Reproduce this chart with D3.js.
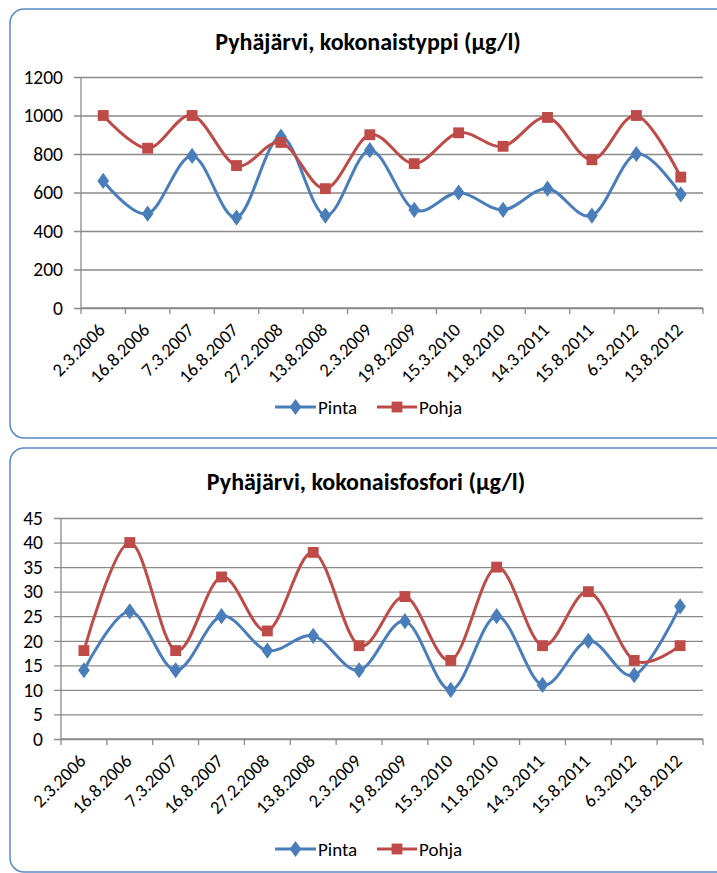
<!DOCTYPE html>
<html>
<head>
<meta charset="utf-8">
<script src="https://cdn.jsdelivr.net/npm/d3@7"></script>
<style>
  html, body { margin: 0; padding: 0; background: #fff; }
  svg { display: block; }
  text { font-family: Carlito, Calibri, Lato, "Open Sans", sans-serif; fill: #000; }
</style>
</head>
<body>
<svg id="chart" width="717" height="873"></svg>
<script>
// Sampling dates shared by both charts
const categories = ["2.3.2006", "16.8.2006", "7.3.2007", "16.8.2007", "27.2.2008", "13.8.2008",
  "2.3.2009", "19.8.2009", "15.3.2010", "11.8.2010", "14.3.2011", "15.8.2011", "6.3.2012", "13.8.2012"];

// Total nitrogen (µg/l)
const typpiPinta = [660, 490, 790, 470, 890, 480, 820, 510, 600, 510, 620, 480, 800, 590];
const typpiPohja = [1000, 830, 1000, 740, 860, 620, 900, 750, 910, 840, 990, 770, 1000, 680];
const typpiTicks = [0, 200, 400, 600, 800, 1000, 1200];

// Total phosphorus (µg/l)
const fosforiPinta = [14, 26, 14, 25, 18, 21, 14, 24, 10, 25, 11, 20, 13, 27];
const fosforiPohja = [18, 40, 18, 33, 22, 38, 19, 29, 16, 35, 19, 30, 16, 19];
const fosforiTicks = [0, 5, 10, 15, 20, 25, 30, 35, 40, 45];

const seriesNames = ["Pinta", "Pohja"];
const seriesColors = ["#4A7EBB", "#BE4B48"];

const svg = d3.select("#chart");

const diamondPath = d3.symbol().type(d3.symbolDiamond).size(76)();
const squarePath = d3.symbol().type(d3.symbolSquare).size(118)();

function drawMarker(g, i, x, y) {
  if (i === 0) {
    g.append("path").attr("d", diamondPath)
      .attr("transform", `translate(${x},${y}) scale(1.25,1)`)
      .attr("fill", seriesColors[0]);
  } else {
    g.append("path").attr("d", squarePath)
      .attr("transform", `translate(${x},${y})`)
      .attr("fill", seriesColors[1]);
  }
}

function drawPanel(cfg) {
  const g = svg.append("g");

  // rounded frame
  g.append("rect")
    .attr("x", cfg.box.x).attr("y", cfg.box.y)
    .attr("width", cfg.box.w).attr("height", cfg.box.h)
    .attr("rx", 14).attr("ry", 14)
    .attr("fill", "#fff").attr("stroke", "#5A8AC6").attr("stroke-width", 1.5);

  // title
  g.append("text")
    .attr("x", cfg.titleX).attr("y", cfg.titleY)
    .attr("text-anchor", "middle")
    .style("font-size", "24px").style("font-weight", "bold")
    .text(cfg.title);

  const p = cfg.plot;
  const x = d3.scaleBand().domain(categories).range([p.left, p.right]).padding(0);
  const y = d3.scaleLinear().domain([0, d3.max(cfg.ticks)]).range([p.bottom, p.top]);
  const cx = c => x(c) + x.bandwidth() / 2;

  // gridlines + y labels
  const yAxis = g.append("g")
    .attr("transform", `translate(${p.left},0)`)
    .call(d3.axisLeft(y).tickValues(cfg.ticks).tickFormat(d3.format("d"))
      .tickSize(-(p.right - p.left)).tickPadding(18));
  yAxis.select(".domain").remove();
  yAxis.selectAll(".tick line")
    .attr("x1", -7)
    .attr("stroke", "#8A8A8A").attr("stroke-width", 1.3);
  yAxis.attr("font-family", null).attr("font-size", null);
  yAxis.selectAll(".tick text").style("font-size", "19.5px");

  // vertical axis line
  g.append("line")
    .attr("x1", p.left).attr("x2", p.left)
    .attr("y1", y(d3.max(cfg.ticks))).attr("y2", p.bottom)
    .attr("stroke", "#8A8A8A").attr("stroke-width", 1.3);

  // category axis: labels at band centers, ticks on band edges
  const xAxis = g.append("g")
    .attr("transform", `translate(0,${p.bottom})`)
    .call(d3.axisBottom(x).tickSize(0).tickPadding(0));
  xAxis.select(".domain").remove();
  xAxis.attr("font-family", null).attr("font-size", null);
  xAxis.selectAll(".tick text")
    .style("font-size", "18.5px")
    .attr("text-anchor", "end")
    .attr("y", 0).attr("dy", 0)
    .attr("transform", "translate(3,23) rotate(-45)");

  const edges = categories.map(c => x(c)).concat([p.right]);
  g.append("g").selectAll("line").data(edges).join("line")
    .attr("x1", d => d).attr("x2", d => d)
    .attr("y1", p.bottom).attr("y2", p.bottom + 6)
    .attr("stroke", "#8A8A8A").attr("stroke-width", 1.3);
  g.append("line")
    .attr("x1", p.left).attr("x2", p.right)
    .attr("y1", p.bottom).attr("y2", p.bottom)
    .attr("stroke", "#8A8A8A").attr("stroke-width", 1.3);

  // smoothed series lines
  const line = d3.line()
    .x((d, i) => cx(categories[i]))
    .y(d => y(d))
    .curve(d3.curveCardinal.tension(0));

  cfg.series.forEach((vals, si) => {
    g.append("path")
      .datum(vals)
      .attr("d", line)
      .attr("fill", "none")
      .attr("stroke", seriesColors[si])
      .attr("stroke-width", 3)
      .attr("stroke-linejoin", "round");
  });
  cfg.series.forEach((vals, si) => {
    const mg = g.append("g");
    vals.forEach((v, i) => drawMarker(mg, si, cx(categories[i]), y(v)));
  });

  // legend
  const lg = g.append("g").attr("transform", `translate(0,${cfg.legendY})`);
  const legendX = [[275, 316, 318], [377, 417, 419]];
  seriesNames.forEach((name, si) => {
    const [x0, x1, tx] = legendX[si];
    lg.append("line").attr("x1", x0).attr("x2", x1).attr("y1", 0).attr("y2", 0)
      .attr("stroke", seriesColors[si]).attr("stroke-width", 3);
    drawMarker(lg, si, (x0 + x1) / 2, 0);
    lg.append("text").attr("x", tx).attr("y", 0).attr("dy", "0.36em")
      .style("font-size", "19px").text(name);
  });
}

drawPanel({
  box: { x: 10, y: 9, w: 720, h: 429 },
  title: "Pyhäjärvi, kokonaistyppi (µg/l)",
  titleX: 368, titleY: 50,
  plot: { left: 81, right: 703, top: 77, bottom: 308 },
  ticks: typpiTicks,
  series: [typpiPinta, typpiPohja],
  legendY: 407
});

drawPanel({
  box: { x: 10, y: 448, w: 720, h: 424 },
  title: "Pyhäjärvi, kokonaisfosfori (µg/l)",
  titleX: 366, titleY: 490,
  plot: { left: 61, right: 703, top: 518, bottom: 739 },
  ticks: fosforiTicks,
  series: [fosforiPinta, fosforiPohja],
  legendY: 849
});
</script>
</body>
</html>
